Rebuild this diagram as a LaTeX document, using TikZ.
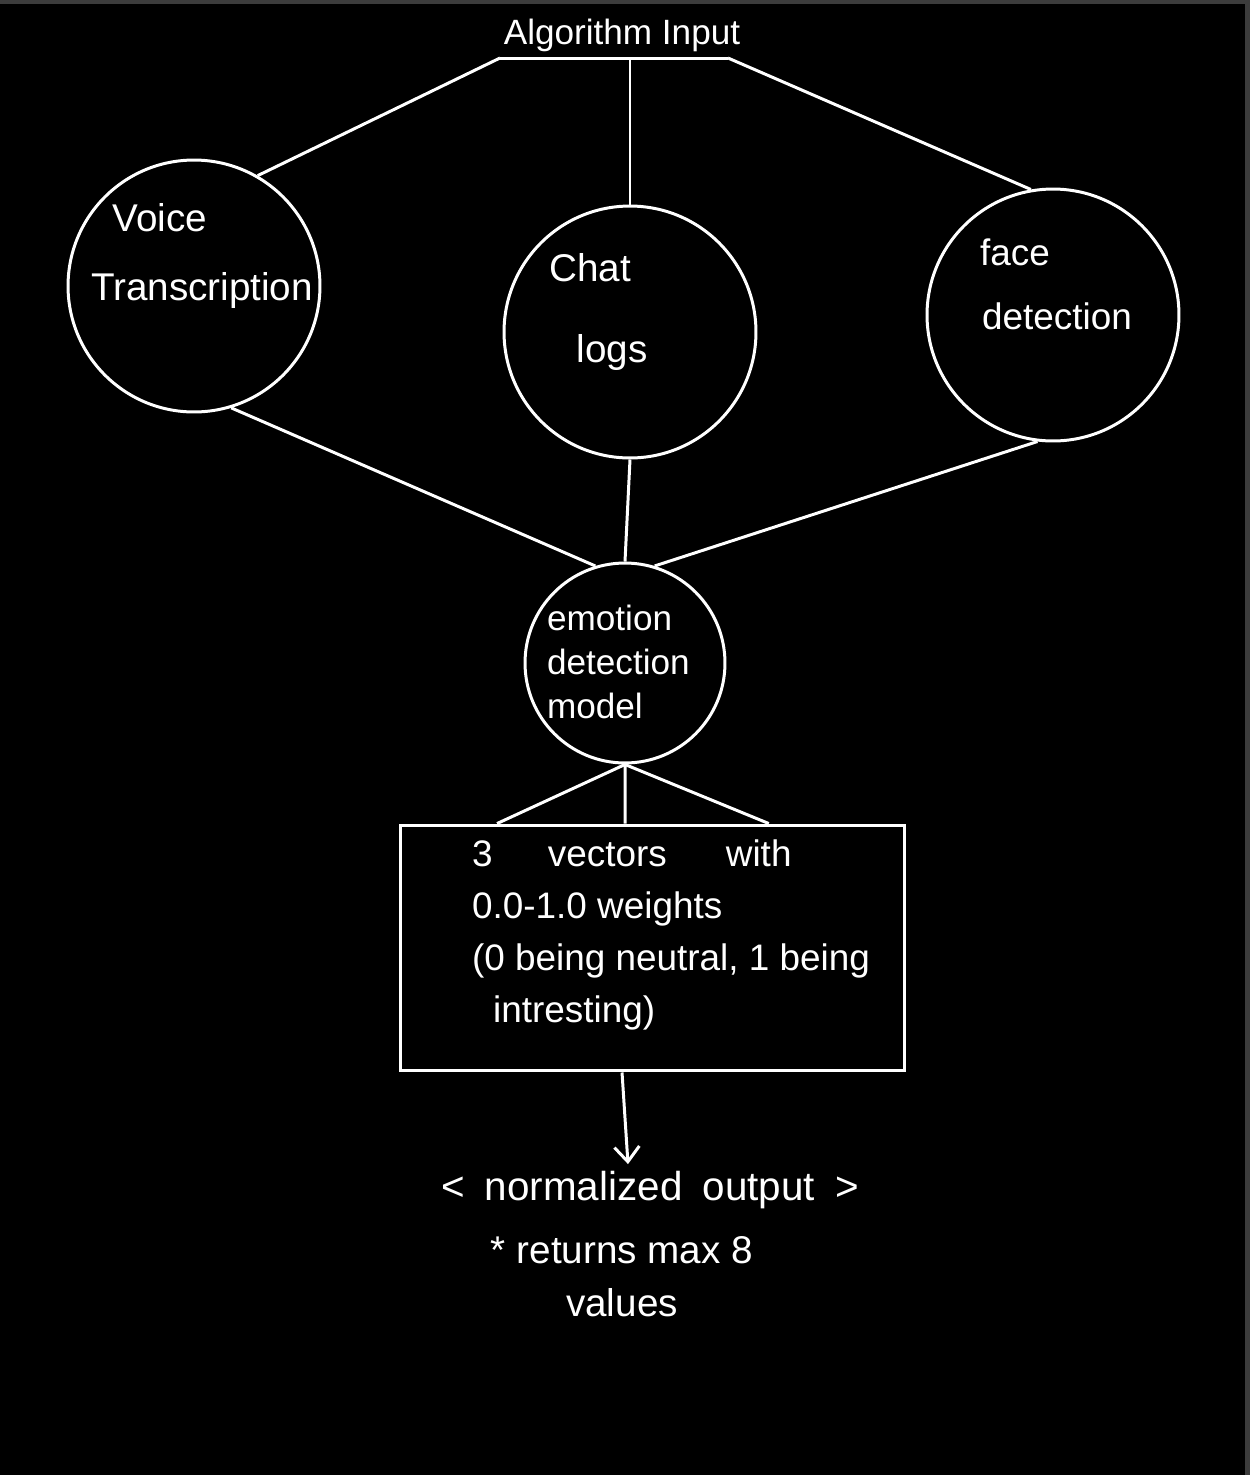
\documentclass[tikz,border=0pt]{standalone}
\usepackage{fontspec}
\setmainfont{Liberation Sans}
\usetikzlibrary{arrows.meta,positioning,calc}
\definecolor{SketchBg}{HTML}{000000}
\definecolor{SketchInk}{HTML}{FFFFFF}
\definecolor{SketchFrame}{HTML}{3C3C3C}

\begin{document}
\begin{tikzpicture}[
    x=0.02cm, y=-0.02cm,
    bubble/.style={draw=SketchInk, circle, line width=1.7pt, minimum size=5.04cm, inner sep=0pt},
    smallbubble/.style={bubble, minimum size=4cm},
    box/.style={draw=SketchInk, line width=1.7pt, minimum width=10.1cm, minimum height=4.92cm, inner sep=0pt},
    link/.style={draw=SketchInk, line width=1.7pt},
    arrow/.style={link, -{Straight Barb[length=3mm,width=5mm]}},
    hand/.style={text=SketchInk, font=\fontsize{22}{26}\selectfont, inner sep=1pt},
    title/.style={hand, font=\fontsize{20}{24}\selectfont}
  ]
    % canvas
    \fill[SketchBg] (0,0) rectangle (1250,1475);
    \fill[SketchFrame] (0,0) rectangle (1250,4);
    \fill[SketchFrame] (1245,0) rectangle (1250,1475);

    \node[title] (input) at (622,35) {Algorithm Input};
    \coordinate (inL) at (500,58);
    \coordinate (inM) at (630,58);
    \coordinate (inR) at (728,58);

    \node[bubble] (voice) at (194,286) {};
    \node[bubble] (chat) at (630,332) {};
    \node[bubble] (face) at (1053,315) {};
    \node[smallbubble] (emotion) at (625,663) {};
    \node[box] (vectors) at (652.5,948) {};

    \node[hand] (voicetop) at (160,218) {Voice};
    \node[hand] (voicebot) at (202,290) {Transcription};
    \node[hand] (chattop) at (590,268) {Chat};
    \node[hand] (chatbot) at (612,352) {logs};
    \node[hand, font=\fontsize{21}{25}\selectfont] (facetop) at (1015,252) {face};
    \node[hand, font=\fontsize{21}{25}\selectfont] (facebot) at (1057,316) {detection};
    \node[hand, anchor=west, align=left, font=\fontsize{20}{25}\selectfont] (emotiontxt) at (545,662)
      {emotion\\detection\\model};
    \node[hand, anchor=north west, align=left, font=\fontsize{21}{29.5}\selectfont] (vectorstxt) at (470,838)
      {3\hspace{1.5em}vectors\hspace{1.6em}with\\0.0-1.0 weights\\(0 being neutral, 1 being\\\hspace*{12pt}intresting)};

    \node[hand, font=\fontsize{23}{27}\selectfont] (output) at (650,1190) {<\enspace normalized\enspace output\enspace >};
    \node[hand, align=center, font=\fontsize{22}{30}\selectfont] (note) at (622,1277) {* returns max 8\\values};

    % input bar
    \draw[link] (inL) -- (inR);
    \draw[link] (inL) -- (voice.60);
    \draw[link] (inM) -- (chat.north);
    \draw[link] (inR) -- (face.100);

    % into the model
    \draw[link] (voice.287) -- (emotion.107);
    \draw[link] (chat.south) -- (emotion.north);
    \draw[link] (face.263) -- (emotion.73);

    % model to vectors
    \draw[link] (emotion.south) -- ($(vectors.north west)!0.194!(vectors.north east)$);
    \draw[link] (emotion.south) -- ($(vectors.north west)!0.446!(vectors.north east)$);
    \draw[link] (emotion.south) -- ($(vectors.north west)!0.729!(vectors.north east)$);

    \draw[arrow] ($(vectors.south west)!0.44!(vectors.south east)$) -- ([xshift=-0.44cm,yshift=0.1cm]output.north);
\end{tikzpicture}
\end{document}
